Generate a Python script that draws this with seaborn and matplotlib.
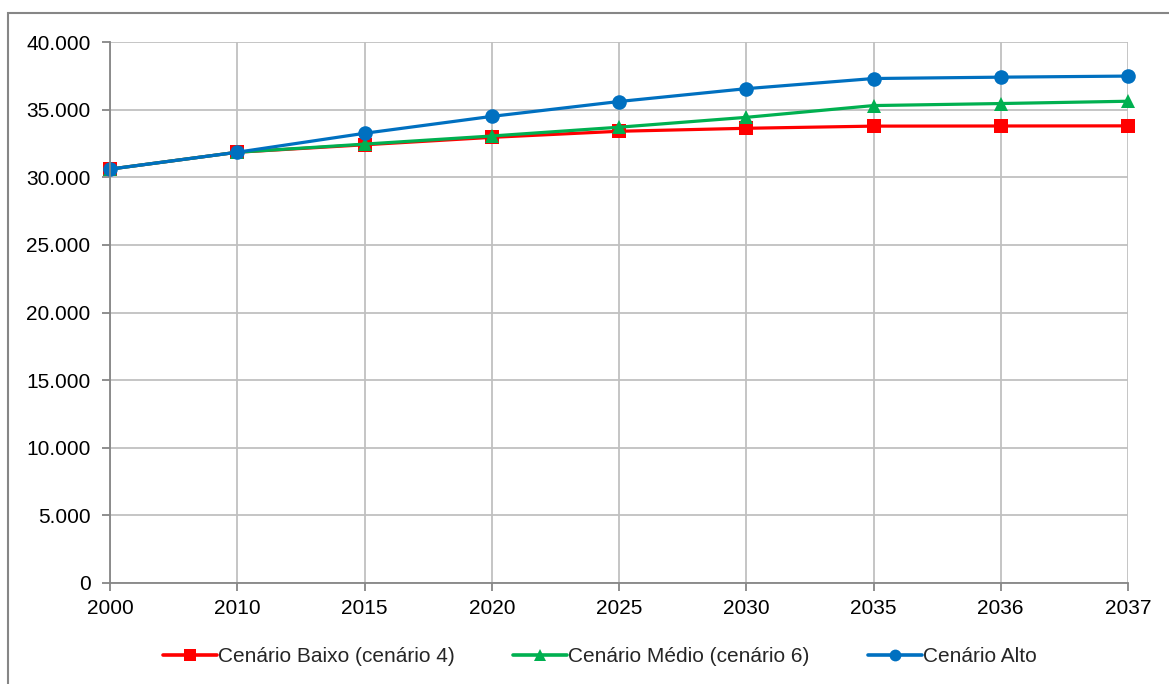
import numpy as np
import pandas as pd
import seaborn as sns
import matplotlib.pyplot as plt
from matplotlib.ticker import FuncFormatter, MultipleLocator
from matplotlib.patches import Rectangle

years = ["2000", "2010", "2015", "2020", "2025", "2030", "2035", "2036", "2037"]
baixo = [30600, 31850, 32400, 32950, 33400, 33620, 33780, 33790, 33800]
medio = [30600, 31850, 32450, 33050, 33700, 34430, 35300, 35450, 35620]
alto = [30600, 31850, 33250, 34500, 35600, 36550, 37300, 37400, 37480]

names = ["Cenário Baixo (cenário 4)", "Cenário Médio (cenário 6)", "Cenário Alto"]
colors = ["#ff0000", "#00b050", "#0070c0"]
markers = ["s", "^", "o"]

rows = []
for name, vals in zip(names, [baixo, medio, alto]):
    for i, (yr, v) in enumerate(zip(years, vals)):
        rows.append({"pos": i, "ano": yr, "valor": v, "serie": name})
df = pd.DataFrame(rows)

sns.set_style("white")
plt.rcParams["font.family"] = ["Liberation Sans", "DejaVu Sans"]

fig = plt.figure(figsize=(11.69, 6.84), dpi=100)
ax = fig.add_axes([110 / 1169, 1 - 583 / 684, (1128 - 110) / 1169, (583 - 42) / 684])

sns.lineplot(data=df, x="pos", y="valor", hue="serie", style="serie",
             palette=colors, markers=markers, dashes=False, linewidth=2.3,
             markersize=10.5, markeredgewidth=0, ax=ax, legend=False)
for ln in ax.lines:
    ln.set_clip_on(False)

ax.set_xlim(0, len(years) - 1)
ax.set_ylim(0, 40000)
ax.set_xticks(range(len(years)))
ax.set_xticklabels(years)
ax.yaxis.set_major_locator(MultipleLocator(5000))
ax.yaxis.set_major_formatter(FuncFormatter(lambda v, p: f"{v:,.0f}".replace(",", ".")))
ax.set_xlabel("")
ax.set_ylabel("")
ax.grid(True, color="#c0c0c0", linewidth=1.3)
ax.set_axisbelow(True)
for side in ["top", "right"]:
    ax.spines[side].set_visible(False)
for side in ["left", "bottom"]:
    ax.spines[side].set_color("#868686")
    ax.spines[side].set_linewidth(1.3)
ax.tick_params(axis="both", labelsize=15, colors="#000000", length=6,
               width=1.3, color="#868686", direction="out", left=True, bottom=True)
ax.tick_params(axis="x", pad=5.5)
ax.tick_params(axis="y", pad=8)

handles = [plt.Line2D([], [], color=c, marker=m, markersize=8.5, linewidth=2.6,
                      markeredgewidth=0) for c, m in zip(colors, markers)]
fig.legend(handles, names, loc="center", bbox_to_anchor=(600 / 1169, 1 - 657 / 684),
           ncol=3, frameon=False, fontsize=15, handlelength=2.6,
           handletextpad=0.05, columnspacing=2.8)

# chart frame: left and top edges visible, the rest falls outside the picture
fig.patches.append(Rectangle((8 / 1169, -0.05), 1.2, 1 - 13 / 684 + 0.05,
                             transform=fig.transFigure, fill=False,
                             edgecolor="#868686", linewidth=1.5))

fig.savefig("out.png", dpi=100)
